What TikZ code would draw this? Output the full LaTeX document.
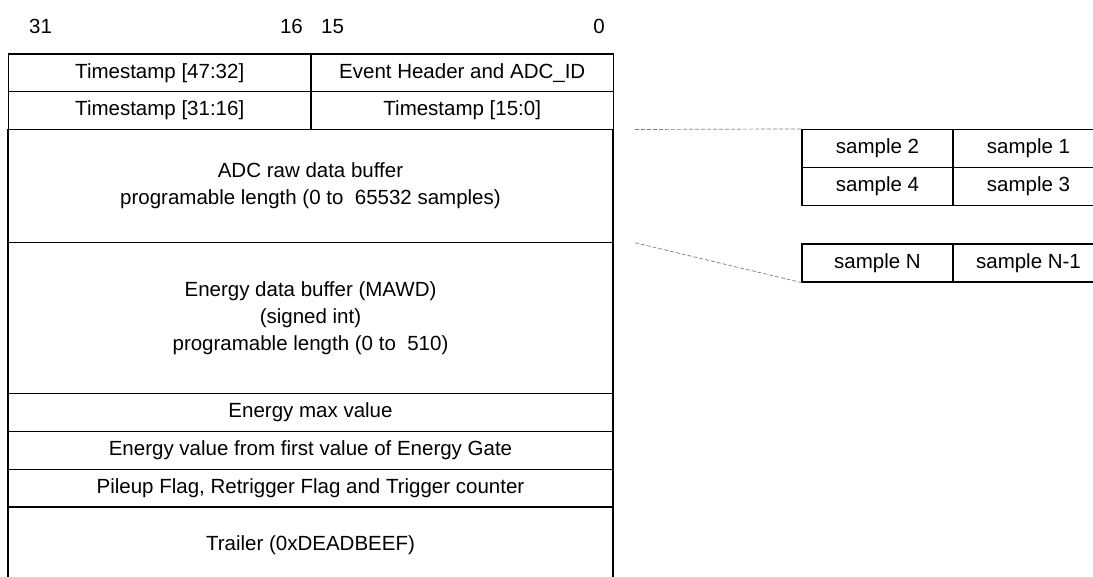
\documentclass[tikz,border=0pt]{standalone}
\usepackage{fontspec}
\setmainfont{Liberation Sans}

\begin{document}
\begin{tikzpicture}[x=1pt, y=-1pt,
    cell/.style={rectangle, draw, line width=1.1pt, inner sep=0pt, align=center, minimum height=37.75pt},
    half/.style={cell, minimum width=302.5pt},
    full/.style={cell, minimum width=605pt},
    smp/.style={cell, minimum width=151pt, minimum height=38pt},
    bitnum/.style={inner sep=0pt},
    zoomline/.style={dashed, gray, line width=0.7pt, dash pattern=on 4pt off 2pt},
    font=\fontsize{20.5}{27}\selectfont]
    \useasboundingbox (0,0) rectangle (1093,576);

    % ビット番号
    \node[bitnum, anchor=base west] (b31) at (29,33) {31};
    \node[bitnum, anchor=base east] (b16) at (303,33) {16};
    \node[bitnum, anchor=base west] (b15) at (321,33) {15};
    \node[bitnum, anchor=base east] (b0) at (605,33) {0};

    % データフォーマット
    \node[half] (ts4732) at (159.75, 72.9) {Timestamp [47:32]};
    \node[half] (evhdr) at (462.25, 72.9) {Event Header and ADC\_ID};
    \node[half] (ts3116) at (159.75, 110.6) {Timestamp [31:16]};
    \node[half] (ts150) at (462.25, 110.6) {Timestamp [15:0]};
    \node[full, minimum height=113.25pt] (adc) at (310.5, 186.1)
        {ADC raw data buffer\\programable length (0 to\ \ 65532 samples)};
    \node[full, minimum height=151pt] (mawd) at (310.5, 318.25)
        {Energy data buffer (MAWD)\\(signed int)\\programable length (0 to\ \ 510)};
    \node[full] (emax) at (310.5, 412.6) {Energy max value};
    \node[full] (egate) at (310.5, 450.4) {Energy value from first value of Energy Gate};
    \node[full] (flags) at (310.5, 488.1) {Pileup Flag, Retrigger Flag and Trigger counter};
    \node[full, minimum height=75.5pt] (trailer) at (310.5, 544.75) {Trailer (0xDEADBEEF)};

    % サンプルの並び
    \node[smp] (s2) at (877.5, 148.5) {sample 2};
    \node[smp] (s1) at (1028.5, 148.5) {sample 1};
    \node[smp] (s4) at (877.5, 186.5) {sample 4};
    \node[smp] (s3) at (1028.5, 186.5) {sample 3};
    \node[smp] (sN) at (877.5, 263) {sample N};
    \node[smp] (sN1) at (1028.5, 263) {sample N-1};

    % 拡大の破線
    \coordinate (ztop) at (635, 129.5);
    \coordinate (zbot) at (635, 242.75);
    \draw[zoomline] (ztop) -- (s2.north west);
    \draw[zoomline] (zbot) -- (sN.south west);

  \end{tikzpicture}
\end{document}
